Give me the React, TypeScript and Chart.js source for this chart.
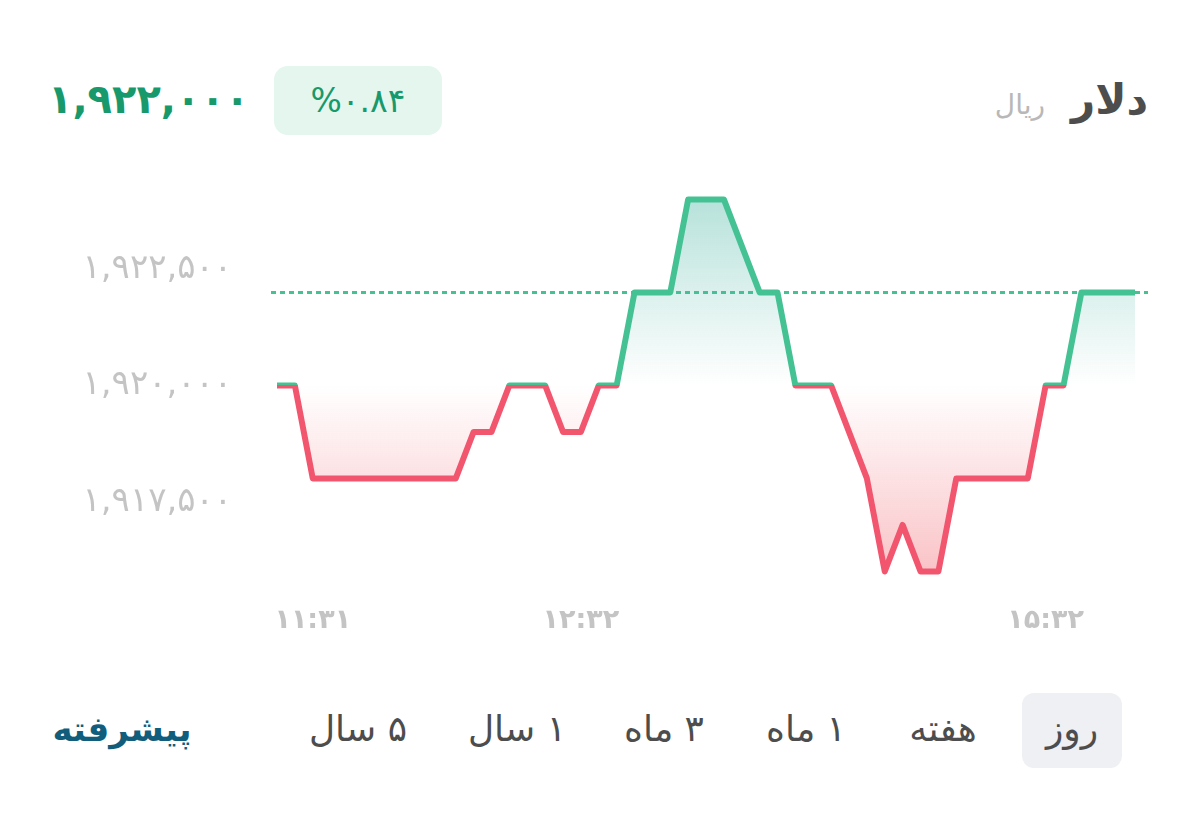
import React, { useEffect, useRef } from "react";
import { Chart, registerables } from "chart.js";

Chart.register(...registerables);

// ---- data ----
const prices: number[] = [
  1920000, 1920000, 1918000, 1918000, 1918000, 1918000, 1918000, 1918000, 1918000, 1918000, 1918000,
  1919000, 1919000, 1920000, 1920000, 1920000, 1919000, 1919000, 1920000, 1920000,
  1922000, 1922000, 1922000, 1924000, 1924000, 1924000, 1923000, 1922000, 1922000,
  1920000, 1920000, 1920000, 1919000, 1918000, 1916000, 1917000, 1916000, 1916000,
  1918000, 1918000, 1918000, 1918000, 1918000, 1920000, 1920000, 1922000, 1922000, 1922000, 1922000,
];
const xTickIndices: number[] = [2, 17, 43];
const xTickLabels: string[] = ["۱۱:۳۱", "۱۲:۳۲", "۱۵:۳۲"];
const yTicks: number[] = [1917500, 1920000, 1922500];
const baseValue = 1920000;
const currentPrice = 1922000;
const changePercent = "۰.۸۴";
const currencyName = "دلار";
const unitName = "ریال";
const periods: string[] = ["روز", "هفته", "۱ ماه", "۳ ماه", "۱ سال", "۵ سال"];
const advancedLabel = "پیشرفته";

const FA_DIGITS = "۰۱۲۳۴۵۶۷۸۹";
const toFa = (n: number) =>
  n.toLocaleString("en-US").replace(/\d/g, (d) => FA_DIGITS[Number(d)]);

const GREEN = "#45c294";
const RED = "#f2566e";
const FONT = "'DejaVu Sans', sans-serif";

function lineGradient(chart: any) {
  const { ctx, chartArea, scales } = chart;
  if (!chartArea) return GREEN;
  const y0 = scales.y.getPixelForValue(baseValue);
  const t = Math.min(1, Math.max(0, (y0 - chartArea.top) / (chartArea.bottom - chartArea.top)));
  const g = ctx.createLinearGradient(0, chartArea.top, 0, chartArea.bottom);
  g.addColorStop(0, GREEN);
  g.addColorStop(t, GREEN);
  g.addColorStop(Math.min(1, t + 0.0001), RED);
  g.addColorStop(1, RED);
  return g;
}

function fillGradient(chart: any) {
  const { ctx, chartArea, scales } = chart;
  if (!chartArea) return "rgba(0,0,0,0)";
  const yTop = scales.y.getPixelForValue(Math.max(...prices));
  const yBase = scales.y.getPixelForValue(baseValue);
  const yBot = scales.y.getPixelForValue(Math.min(...prices));
  const g = ctx.createLinearGradient(0, yTop, 0, yBot);
  const t = (yBase - yTop) / (yBot - yTop);
  g.addColorStop(0, "rgba(67,178,160,0.38)");
  g.addColorStop(t, "rgba(67,178,160,0.0)");
  g.addColorStop(Math.min(1, t + 0.0001), "rgba(240,90,100,0.0)");
  g.addColorStop(1, "rgba(240,90,100,0.36)");
  return g;
}

const dashedPlugin = {
  id: "currentPriceLine",
  beforeDatasetsDraw(chart: any) {
    const { ctx, chartArea, scales } = chart;
    const y = scales.y.getPixelForValue(currentPrice);
    ctx.save();
    ctx.strokeStyle = GREEN;
    ctx.lineWidth = 3;
    ctx.setLineDash([5, 4]);
    ctx.beginPath();
    ctx.moveTo(chartArea.left, y);
    ctx.lineTo(chartArea.right, y);
    ctx.stroke();
    ctx.restore();
  },
};

function PriceChart() {
  const ref = useRef<HTMLCanvasElement>(null);
  useEffect(() => {
    if (!ref.current) return;
    const chart = new Chart(ref.current, {
      type: "line",
      data: {
        datasets: [
          {
            data: prices.map((y, i) => ({ x: i, y })),
            borderColor: (c: any) => lineGradient(c.chart),
            backgroundColor: (c: any) => fillGradient(c.chart),
            borderWidth: 6,
            borderJoinStyle: "round",
            pointRadius: 0,
            pointHoverRadius: 0,
            tension: 0,
            fill: { target: { value: baseValue } },
          } as any,
        ],
      },
      options: {
        animation: false,
        responsive: false,
        maintainAspectRatio: false,
        events: [],
        layout: { padding: { left: 0, right: 52, top: 26.2, bottom: 0 } },
        plugins: { legend: { display: false }, tooltip: { enabled: false } },
        scales: {
          x: {
            type: "linear",
            min: -0.336,
            max: 48.727,
            grid: { display: false, drawTicks: false },
            border: { display: false },
            afterBuildTicks: (s: any) => {
              s.ticks = xTickIndices.map((v) => ({ value: v }));
            },
            afterFit: (s: any) => {
              s.height = 65.3;
              s.paddingLeft = 0;
              s.paddingRight = 0;
            },
            ticks: {
              autoSkip: false,
              maxRotation: 0,
              padding: 10,
              color: "#c4c4c4",
              font: { family: FONT, size: 27, weight: "bold" },
              callback: (v: any) => {
                const k = xTickIndices.indexOf(Number(v));
                return k >= 0 ? xTickLabels[k] : "";
              },
            },
          },
          y: {
            min: 1915500,
            max: 1924500,
            grid: { display: false, drawTicks: false },
            border: { display: false },
            afterBuildTicks: (s: any) => {
              s.ticks = yTicks.map((v) => ({ value: v }));
            },
            afterFit: (s: any) => {
              s.width = 271;
              s.paddingTop = 0;
              s.paddingBottom = 0;
            },
            ticks: {
              padding: 39,
              color: "#c4c4c4",
              font: { family: FONT, size: 34 },
              callback: (v: any) => toFa(Number(v)),
            },
          },
        },
      } as any,
      plugins: [dashedPlugin],
    });
    return () => chart.destroy();
  }, []);
  return (
    <canvas
      ref={ref}
      width={1200}
      height={510}
      style={{ position: "absolute", left: 0, top: 150, width: 1200, height: 510 }}
    />
  );
}

const tabCenters: number[] = [1072, 943, 806, 664, 517, 358];

export default function App() {
  return (
    <div
      style={{
        position: "fixed",
        left: 0,
        top: 0,
        width: 1200,
        height: 815,
        background: "#fff",
        fontFamily: FONT,
        overflow: "hidden",
      }}
    >
      {/* header */}
      <div
        style={{
          position: "absolute",
          left: 48,
          top: 74,
          height: 50,
          lineHeight: "50px",
          fontSize: 40,
          fontWeight: "bold",
          color: "#17996b",
          direction: "ltr",
        }}
      >
        {toFa(currentPrice)}
      </div>
      <div
        style={{
          position: "absolute",
          left: 274,
          top: 66,
          width: 168,
          height: 69,
          borderRadius: 14,
          background: "#e4f6ee",
          display: "flex",
          alignItems: "center",
          justifyContent: "center",
          fontSize: 33,
          color: "#17996b",
          direction: "ltr",
        }}
      >
        {"%" + changePercent}
      </div>
      <div
        dir="rtl"
        style={{
          position: "absolute",
          right: 52,
          top: 72,
          height: 56,
          lineHeight: "56px",
          display: "flex",
          alignItems: "baseline",
          gap: 26,
        }}
      >
        <span style={{ fontSize: 42, fontWeight: "bold", color: "#4d4d4d" }}>{currencyName}</span>
        <span style={{ fontSize: 28, color: "#b8b8b8" }}>{unitName}</span>
      </div>

      <PriceChart />

      {/* period tabs */}
      <div
        style={{
          position: "absolute",
          left: 1022,
          top: 693,
          width: 100,
          height: 75,
          borderRadius: 12,
          background: "#eff0f4",
        }}
      />
      {periods.map((p, i) => (
        <div
          key={p}
          dir="rtl"
          style={{
            position: "absolute",
            left: tabCenters[i] - 90,
            width: 180,
            top: 697,
            height: 64,
            lineHeight: "64px",
            textAlign: "center",
            fontSize: 36,
            color: "#4d4d4d",
          }}
        >
          {p}
        </div>
      ))}
      <div
        dir="rtl"
        style={{
          position: "absolute",
          left: 32,
          width: 180,
          top: 697,
          height: 64,
          lineHeight: "64px",
          textAlign: "center",
          fontSize: 34,
          fontWeight: "bold",
          color: "#115e7c",
        }}
      >
        {advancedLabel}
      </div>
    </div>
  );
}
